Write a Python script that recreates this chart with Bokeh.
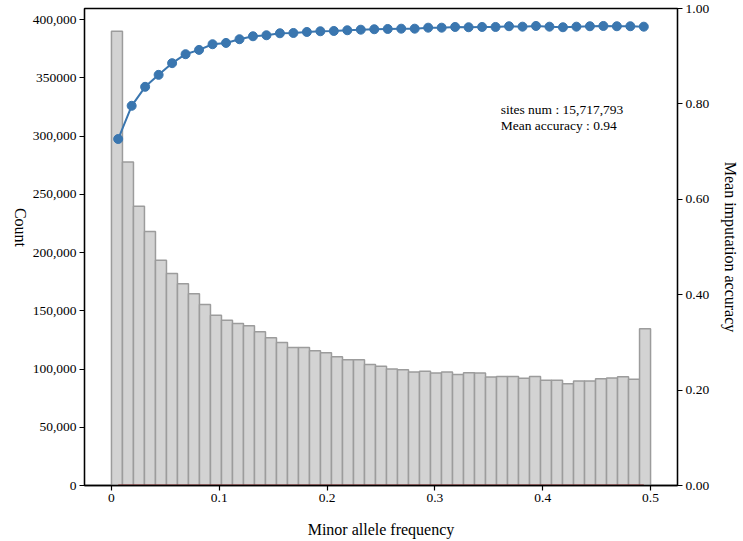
import numpy as np
from bokeh.plotting import figure
from bokeh.models import Range1d, LinearAxis, FixedTicker, Label, ColumnDataSource
from bokeh.embed import file_html
from bokeh.resources import INLINE

# ---- data ----
maf_min, maf_max, n_bins = 0.0, 0.5, 49
counts = [390100, 277800, 239800, 218100, 193500, 182100, 173200, 164600, 155500, 146300,
          142000, 139200, 137100, 132000, 126800, 122900, 118600, 118600, 115700, 114000,
          110600, 108000, 108000, 104000, 102300, 100000, 99400, 97400, 98000, 96600,
          97400, 95400, 96800, 96600, 93100, 93700, 93700, 92000, 93700, 90300,
          90300, 87400, 89700, 89700, 91700, 92300, 93400, 91200, 134600]

n_acc_bins = 40
accuracy = [0.7264, 0.7960, 0.8358, 0.8609, 0.8854, 0.9042, 0.9132, 0.9251, 0.9278, 0.9356,
            0.9418, 0.9439, 0.9481, 0.9487, 0.9508, 0.9523, 0.9529, 0.9544, 0.9556, 0.9565,
            0.9571, 0.9577, 0.9577, 0.9598, 0.9598, 0.9613, 0.9607, 0.9613, 0.9613, 0.9628,
            0.9619, 0.9634, 0.9619, 0.9607, 0.9619, 0.9628, 0.9634, 0.9628, 0.9628, 0.9619]
zero_line = [0.0] * n_acc_bins

x_ticks = [0, 0.1, 0.2, 0.3, 0.4, 0.5]
x_tick_labels = ["0", "0.1", "0.2", "0.3", "0.4", "0.5"]
count_ticks = [0, 50000, 100000, 150000, 200000, 250000, 300000, 350000, 400000]
count_tick_labels = ["0", "50,000", "100,000", "150,000", "200,000", "250,000",
                     "300,000", "350000", "400,000"]
acc_ticks = [0.0, 0.2, 0.4, 0.6, 0.8, 1.0]
acc_tick_labels = ["0.00", "0.20", "0.40", "0.60", "0.80", "1.00"]

x_label = "Minor allele frequency"
left_label = "Count"
right_label = "Mean imputation accuracy"
note_lines = ["sites num : 15,717,793", "Mean accuracy : 0.94"]

# ---- derived ----
edges = np.linspace(maf_min, maf_max, n_bins + 1)
acc_edges = np.linspace(maf_min, maf_max, n_acc_bins + 1)
acc_x = (acc_edges[:-1] + acc_edges[1:]) / 2

FONT = "Liberation Serif"

p = figure(width=742, height=540, output_backend="svg", toolbar_location=None,
           x_range=Range1d(-0.025, 0.525), y_range=Range1d(0, 409600),
           min_border_left=79, min_border_right=59, min_border_top=8, min_border_bottom=55)
p.extra_y_ranges = {"acc": Range1d(0, 1.0)}
p.grid.visible = False
p.outline_line_color = "black"
p.outline_line_width = 1.3
p.background_fill_color = "white"
p.border_fill_color = "white"

bars = ColumnDataSource(dict(left=edges[:-1], right=edges[1:], top=counts,
                             bottom=[0] * n_bins))
p.quad(left="left", right="right", top="top", bottom="bottom", source=bars,
       fill_color="#d3d3d3", line_color="#9c9c9c", line_width=1.5)

p.line(acc_x, accuracy, y_range_name="acc", line_color="#3a76af", line_width=2)
p.scatter(acc_x, accuracy, y_range_name="acc", size=9, fill_color="#3a76af",
          line_color="#3a76af")
p.line(acc_x, zero_line, y_range_name="acc", line_color="#a03030", line_width=2)


def style_axis(ax, ticks, labels, label, standoff):
    ax.ticker = FixedTicker(ticks=ticks)
    ax.major_label_overrides = {t: l for t, l in zip(ticks, labels)}
    ax.minor_tick_line_color = None
    ax.major_tick_out = 5
    ax.major_tick_in = 0
    ax.major_tick_line_color = "black"
    ax.major_tick_line_width = 1.2
    ax.axis_line_color = "black"
    ax.axis_line_width = 1.3
    ax.major_label_text_font = FONT
    ax.major_label_text_font_size = "13.5px"
    ax.major_label_text_color = "black"
    ax.major_label_standoff = 3
    ax.axis_label = label
    ax.axis_label_text_font = FONT
    ax.axis_label_text_font_size = "16px"
    ax.axis_label_text_font_style = "normal"
    ax.axis_label_text_color = "black"
    ax.axis_label_standoff = standoff


style_axis(p.xaxis[0], x_ticks, x_tick_labels, x_label, 16)
style_axis(p.yaxis[0], count_ticks, count_tick_labels, left_label, 9)
if "axis_label_orientation" in p.yaxis[0].properties():
    p.yaxis[0].axis_label_orientation = -np.pi / 2
right_axis = LinearAxis(y_range_name="acc")
style_axis(right_axis, acc_ticks, acc_tick_labels, right_label, 10)
p.add_layout(right_axis, "right")

for text, yv in zip(note_lines, [0.7883, 0.7547]):
    p.add_layout(Label(x=0.361, y=yv, text=text, text_align="left",
                       text_baseline="alphabetic", text_font=FONT,
                       text_font_size="13.5px", text_color="black",
                       y_range_name="acc"))

open("out.html", "w").write(file_html(p, INLINE))
